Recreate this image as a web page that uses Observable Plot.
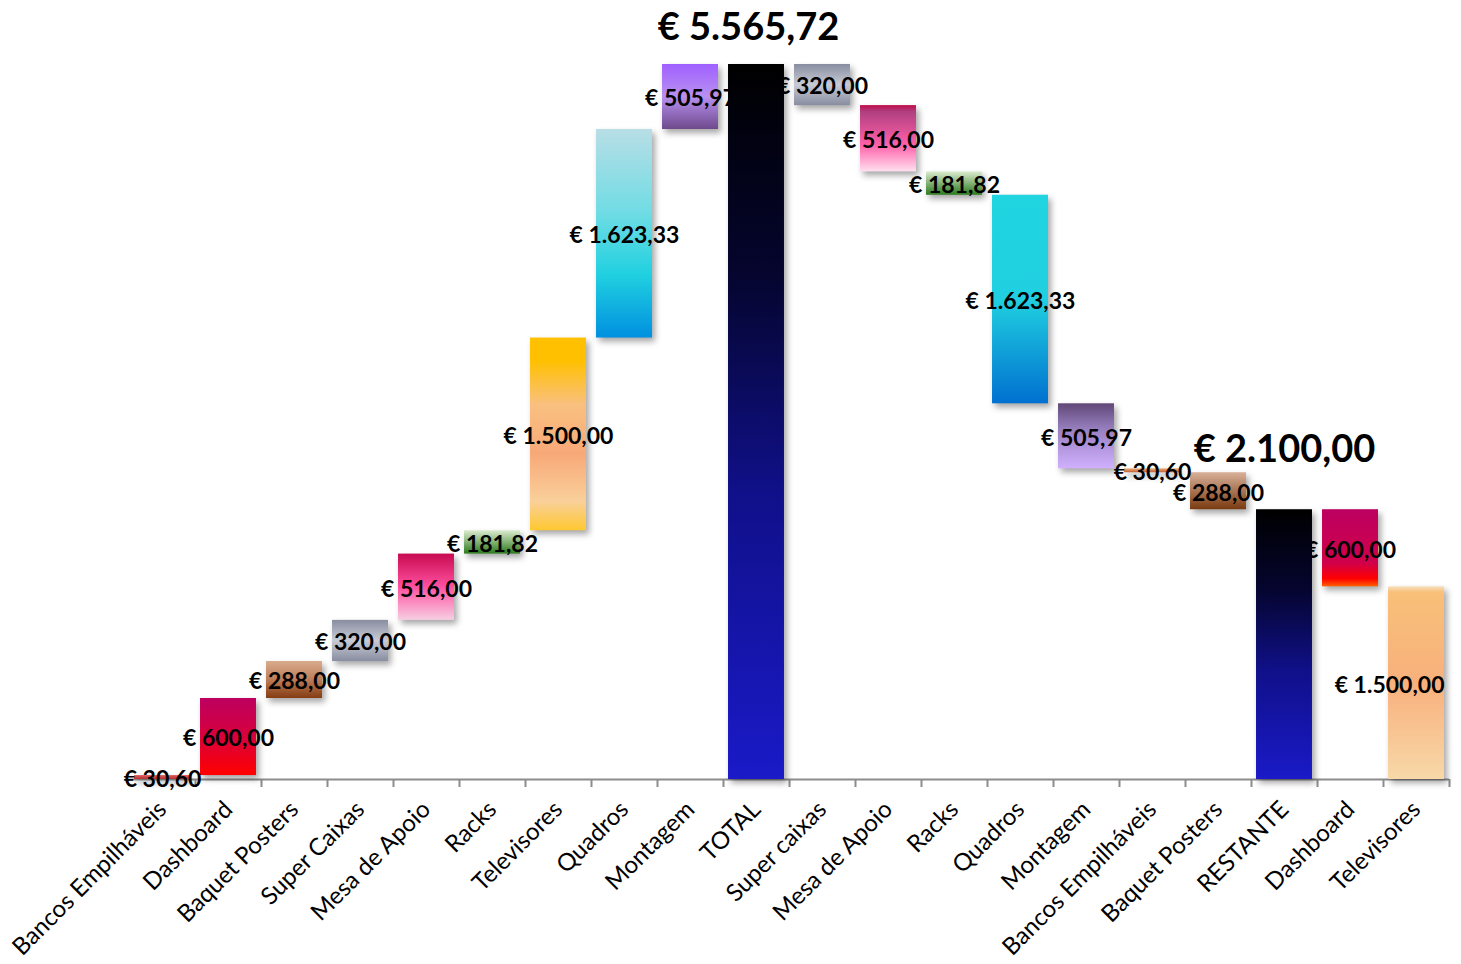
<!DOCTYPE html>
<html>
<head>
<meta charset="utf-8">
<script src="https://cdn.jsdelivr.net/npm/d3@7"></script>
<script src="https://cdn.jsdelivr.net/npm/@observablehq/plot@0.6"></script>
<style>
  html, body { margin: 0; padding: 0; background: #fff; }
  #chart svg g[aria-label="rect"] rect { filter: drop-shadow(3px 4px 3px rgba(0,0,0,0.35)); }
</style>
</head>
<body>
<svg width="0" height="0" style="position:absolute" id="defs-holder"><defs id="grad-defs"></defs></svg>
<div id="chart"></div>
<script>
// ---- Data ----
const categories = ["Bancos Empilháveis","Dashboard","Baquet Posters","Super Caixas","Mesa de Apoio","Racks","Televisores","Quadros","Montagem","TOTAL","Super caixas","Mesa de Apoio","Racks","Quadros","Montagem","Bancos Empilháveis","Baquet Posters","RESTANTE","Dashboard","Televisores"];
const values = [30.60, 600.00, 288.00, 320.00, 516.00, 181.82, 1500.00, 1623.33, 505.97, 5565.72, -320.00, -516.00, -181.82, -1623.33, -505.97, -30.60, -288.00, 2100.00, -600.00, -1500.00];
const isTotal = [false,false,false,false,false,false,false,false,false,true,false,false,false,false,false,false,false,true,false,false];

// ---- Styles (gradients top -> bottom) ----
const gradients = [
  [[0,"#e06060"],[1,"#b83030"]],
  [[0,"#bc0060"],[0.5,"#d8003c"],[1,"#ff0000"]],
  [[0,"#d8ac8e"],[0.5,"#bd7d58"],[1,"#843c12"]],
  [[0,"#888da0"],[0.5,"#c8cbd5"],[1,"#888da0"]],
  [[0,"#c80a50"],[0.5,"#ff50a0"],[1,"#f6cfe2"]],
  [[0,"#dcebd0"],[1,"#2a7a1c"]],
  [[0,"#ffc000"],[0.12,"#ffc000"],[0.35,"#f9c080"],[0.6,"#f8a878"],[0.85,"#f9d09a"],[1,"#ffc830"]],
  [[0,"#b8dee6"],[0.4,"#70dce4"],[0.7,"#20d0e0"],[1,"#0090e0"]],
  [[0,"#a060ff"],[0.5,"#b890f0"],[1,"#6e4a8c"]],
  [[0,"#000000"],[0.3,"#050530"],[0.6,"#10108a"],[1,"#1a1ac8"]],
  [[0,"#888da0"],[0.5,"#c8cbd5"],[1,"#888da0"]],
  [[0,"#c00a48"],[0.1,"#b04080"],[0.6,"#ff60a8"],[1,"#ffe0f0"]],
  [[0,"#dcebd0"],[1,"#2a7a1c"]],
  [[0,"#20d4e0"],[0.5,"#20d0e0"],[1,"#0070d0"]],
  [[0,"#604878"],[0.4,"#9880c0"],[1,"#d0b0ff"]],
  [[0,"#f0b080"],[1,"#c06030"]],
  [[0,"#d8b098"],[1,"#7a3a10"]],
  [[0,"#000000"],[0.3,"#050530"],[0.6,"#10108a"],[1,"#1a1ac8"]],
  [[0,"#bc0060"],[0.7,"#d0004a"],[0.9,"#ff0000"],[1,"#ff6000"]],
  [[0,"#f8e0c0"],[0.03,"#f8c078"],[0.5,"#f8b07c"],[1,"#f8d8a8"]]
];
const defs = document.getElementById("grad-defs");
const NS = "http://www.w3.org/2000/svg";
gradients.forEach((stops, i) => {
  const g = document.createElementNS(NS, "linearGradient");
  g.setAttribute("id", "grad" + i);
  g.setAttribute("x1", "0"); g.setAttribute("y1", "0");
  g.setAttribute("x2", "0"); g.setAttribute("y2", "1");
  stops.forEach(([o, c]) => {
    const s = document.createElementNS(NS, "stop");
    s.setAttribute("offset", o);
    s.setAttribute("stop-color", c);
    g.appendChild(s);
  });
  defs.appendChild(g);
});

// ---- Build waterfall table ----
const locale = d3.formatLocale({decimal: ",", thousands: ".", grouping: [3], currency: ["€ ", ""]});
const fmt = locale.format("$,.2f");
let running = 0;
const rows = values.map((v, i) => {
  let lo, hi;
  if (isTotal[i]) { lo = 0; hi = v; running = v; }
  else { const s = running; running = s + v; lo = Math.min(s, running); hi = Math.max(s, running); }
  return {i, cat: categories[i], lo, hi, mid: (lo + hi) / 2, total: isTotal[i], label: fmt(Math.abs(v)), fill: `url(#grad${i})`};
});
const last = rows.length - 1;
const steps = rows.filter(d => !d.total);
const stepsInner = steps.filter(d => d.i !== last);
const stepsLast = steps.filter(d => d.i === last);
const totals = rows.filter(d => d.total);
const font = "Lato, 'Open Sans', sans-serif";
const labelStyle = {fontSize: 23, fontWeight: "bold", fill: "#000", fontFamily: font, dy: 2};

const chart = Plot.plot({
  width: 1461,
  height: 964,
  marginLeft: 129,
  marginRight: 12,
  marginTop: 64,
  marginBottom: 185,
  x: {type: "linear", domain: [0, categories.length], axis: null},
  y: {domain: [0, d3.max(values)], axis: null},
  color: {type: "identity"},
  style: {fontFamily: font, background: "#fff"},
  marks: [
    Plot.ruleY([0], {stroke: "#8c8c8c", strokeWidth: 2}),
    Plot.axisX(d3.range(1, categories.length + 1), {tickSize: 8, stroke: "#8c8c8c", strokeWidth: 2, tickFormat: () => ""}),
    Plot.axisX(d3.range(categories.length).map(i => i + 0.5), {
      tickSize: 0, tickPadding: 26, tickRotate: -45, fontSize: 24, fill: "#000",
      tickFormat: d => categories[Math.floor(d)], fontFamily: font
    }),
    Plot.rectY(steps, {x1: d => d.i + 0.076, x2: d => d.i + 0.924, y1: "lo", y2: "hi", fill: "fill"}),
    Plot.text(stepsInner, {x: d => d.i + 0.5, y: "mid", text: "label", ...labelStyle}),
    Plot.text(stepsLast, {x: d => d.i + 0.924, y: "mid", text: "label", textAnchor: "end", ...labelStyle}),
    Plot.rectY(totals, {x1: d => d.i + 0.076, x2: d => d.i + 0.924, y1: "lo", y2: "hi", fill: "fill"}),
    Plot.text(totals.filter(d => d.cat === "TOTAL"), {x: d => d.i + 0.5, y: "hi", dy: -37, dx: -8, text: "label", fontSize: 38, fontWeight: "bold", fill: "#000", fontFamily: font}),
    Plot.text(totals.filter(d => d.cat === "RESTANTE"), {x: d => d.i + 0.5, y: "hi", dy: -60, text: "label", fontSize: 38, fontWeight: "bold", fill: "#000", fontFamily: font})
  ]
});
document.getElementById("chart").appendChild(chart);
</script>
</body>
</html>
